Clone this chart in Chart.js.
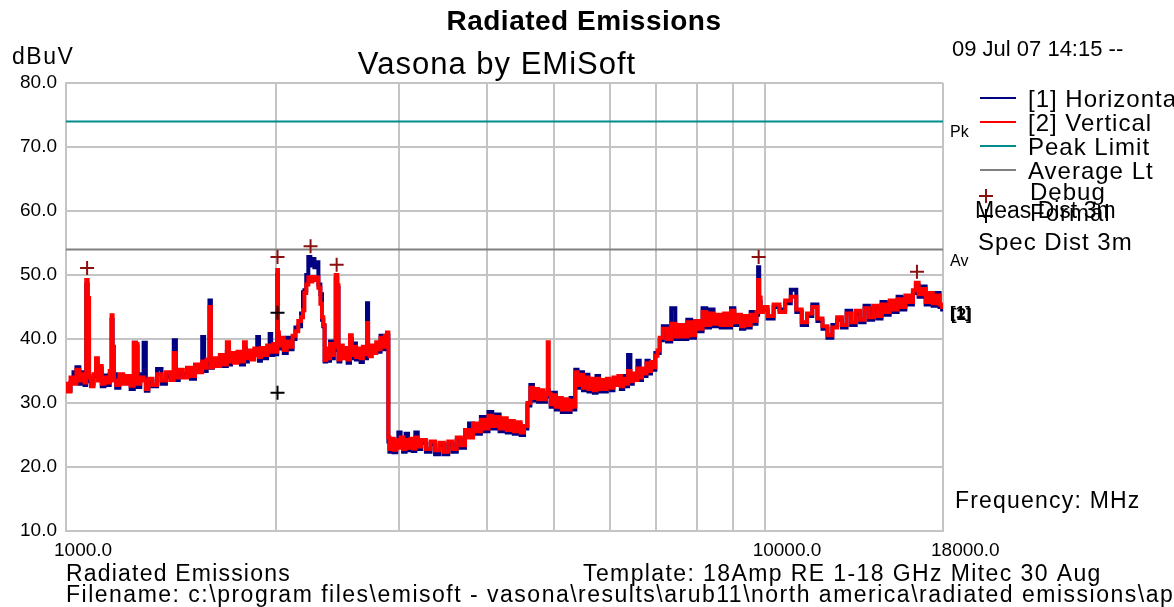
<!DOCTYPE html>
<html>
<head>
<meta charset="utf-8">
<title>Radiated Emissions</title>
<script src="https://cdn.jsdelivr.net/npm/chart.js@4.4.1/dist/chart.umd.min.js"></script>
<style>
  html, body { margin: 0; padding: 0; background: #ffffff; }
  #wrap { width: 1174px; height: 607px; }
</style>
</head>
<body>
<div id="wrap"><canvas id="canvas_0" width="1174" height="607"></canvas></div>
<script>
// sweep points, MHz
var freqMHz = [
    1000, 1010, 1020, 1030, 1040, 1050, 1060, 1066, 1072, 1076,
    1082, 1090, 1100, 1108, 1114, 1120, 1130, 1140, 1150, 1160,
    1164, 1168, 1175, 1185, 1200, 1215, 1230, 1245, 1256, 1262,
    1270, 1285, 1298, 1304, 1320, 1340, 1360, 1380, 1400, 1420,
    1433, 1440, 1460, 1480, 1500, 1520, 1540, 1560, 1573, 1580,
    1600, 1609, 1615, 1630, 1650, 1670, 1690, 1708, 1715, 1730,
    1750, 1770, 1790, 1806, 1812, 1830, 1850, 1870, 1886, 1892,
    1910, 1930, 1950, 1963, 1970, 1990, 2004, 2008, 2014, 2020,
    2040, 2060, 2080, 2100, 2120, 2140, 2160, 2180, 2188, 2200,
    2215, 2230, 2245, 2260, 2275, 2290, 2305, 2320, 2330, 2340,
    2350, 2365, 2380, 2395, 2410, 2425, 2440, 2450, 2460, 2480,
    2500, 2520, 2540, 2560, 2570, 2590, 2610, 2630, 2650, 2670,
    2690, 2703, 2710, 2730, 2750, 2770, 2790, 2810, 2830, 2850,
    2870, 2890, 2897, 2910, 2930, 2960, 2980, 3000, 3025, 3050,
    3075, 3100, 3125, 3150, 3175, 3200, 3250, 3300, 3350, 3400,
    3450, 3500, 3550, 3600, 3650, 3700, 3750, 3800, 3850, 3900,
    3950, 4000, 4050, 4100, 4150, 4200, 4250, 4300, 4350, 4400,
    4450, 4500, 4550, 4600, 4640, 4680, 4720, 4760, 4800, 4840,
    4885, 4899, 4920, 4960, 5000, 5050, 5100, 5150, 5200, 5250,
    5300, 5340, 5375, 5420, 5470, 5520, 5570, 5620, 5670, 5720,
    5770, 5820, 5870, 5920, 5970, 6010, 6050, 6100, 6150, 6200,
    6250, 6300, 6350, 6400, 6450, 6500, 6550, 6600, 6650, 6700,
    6750, 6800, 6850, 6900, 6950, 7000, 7050, 7100, 7200, 7300,
    7400, 7500, 7600, 7700, 7800, 7900, 8000, 8100, 8200, 8300,
    8400, 8500, 8600, 8700, 8800, 8900, 9000, 9100, 9200, 9300,
    9400, 9500, 9600, 9700, 9770, 9804, 9840, 9900, 10000, 10200,
    10400, 10600, 10800, 11000, 11200, 11400, 11600, 11800, 12000, 12200,
    12400, 12600, 12800, 13000, 13200, 13400, 13600, 13800, 14000, 14200,
    14400, 14600, 14800, 15000, 15200, 15400, 15600, 15800, 16000, 16200,
    16400, 16520, 16700, 16900, 17100, 17300, 17500, 17700, 17900, 18000
];

// [2] Vertical, dBuV
var verticalDbuv = [
    33.0, 31.8, 34.0, 33.0, 35.2, 33.5, 34.5, 33.2, 49.2, 46.4,
    34.0, 32.6, 34.5, 37.0, 33.5, 35.8, 33.0, 34.0, 33.2, 35.0,
    43.7, 38.8, 33.5, 32.8, 34.5, 33.0, 34.2, 32.7, 39.4, 39.2,
    33.0, 34.0, 33.5, 32.2, 33.8, 32.8, 34.5, 33.5, 34.8, 33.6,
    37.8, 34.0, 35.2, 34.0, 35.5, 34.2, 36.0, 34.8, 36.5, 35.5,
    36.8, 45.0, 35.6, 37.0, 35.8, 37.5, 36.0, 39.5, 36.5, 37.8,
    36.3, 38.0, 36.5, 39.5, 37.0, 38.2, 36.8, 38.5, 37.5, 37.2,
    38.6, 37.5, 39.0, 38.0, 38.0, 39.2, 38.0, 50.8, 41.0, 39.0,
    40.2, 38.3, 39.6, 38.8, 40.5, 41.2, 42.8, 43.4, 44.5, 47.2,
    48.5, 49.6, 49.0, 49.7, 49.2, 49.6, 48.0, 45.5, 43.4, 42.2,
    36.7, 38.5, 37.0, 39.2, 37.5, 38.8, 50.0, 48.4, 36.8, 39.0,
    37.0, 38.6, 36.8, 40.6, 37.5, 38.8, 37.2, 38.5, 37.0, 38.8,
    37.6, 42.5, 38.5, 37.3, 39.0, 37.8, 39.5, 38.4, 40.2, 38.8,
    40.5, 41.0, 24.6, 22.8, 24.4, 22.7, 24.2, 23.0, 24.6, 22.8,
    24.2, 23.0, 24.4, 22.9, 24.6, 23.2, 24.2, 22.8, 24.0, 22.6,
    23.8, 22.4, 24.0, 22.8, 24.6, 23.4, 25.8, 24.6, 26.8, 25.6,
    27.4, 26.0, 28.0, 26.4, 27.8, 26.0, 27.6, 25.8, 27.2, 25.6,
    27.0, 25.4, 26.4, 30.0, 32.4, 30.8, 32.2, 30.6, 32.0, 30.6,
    31.6, 39.5, 31.4, 29.8, 31.2, 29.4, 30.8, 29.0, 30.6, 29.0,
    30.4, 29.4, 34.8, 32.8, 34.4, 32.4, 34.0, 32.2, 33.8, 32.0,
    33.8, 32.2, 33.6, 32.2, 33.8, 32.6, 32.4, 34.0, 32.8, 34.2,
    32.6, 33.8, 33.0, 35.0, 33.4, 34.6, 33.6, 35.4, 34.0, 35.4,
    34.6, 36.2, 35.0, 36.4, 35.6, 37.4, 38.2, 40.2, 41.6, 40.0,
    42.4, 40.4, 42.2, 40.4, 42.6, 40.6, 42.8, 41.6, 44.2, 42.2,
    44.0, 42.4, 43.8, 42.2, 44.0, 42.2, 44.4, 42.6, 43.8, 42.0,
    43.6, 42.2, 43.8, 42.8, 44.2, 49.2, 46.5, 44.2, 45.0, 43.6,
    45.4, 44.2, 46.0, 46.6, 44.6, 42.6, 44.0, 45.0, 43.2, 42.0,
    40.6, 41.8, 43.4, 42.2, 44.0, 42.6, 44.4, 43.0, 44.8, 43.4,
    45.2, 43.6, 45.4, 44.2, 46.0, 44.6, 46.2, 45.0, 46.8, 45.8,
    47.6, 48.8, 47.0, 47.8, 45.8, 47.2, 45.6, 46.8, 45.4, 45.0
];

// [1] Horizontal, dBuV
var horizontalDbuv = [
    32.5, 32.0, 33.2, 34.8, 35.6, 33.0, 34.8, 32.8, 48.5, 46.0,
    33.4, 33.0, 34.2, 36.0, 33.8, 35.4, 32.6, 34.3, 32.8, 34.5,
    43.0, 38.0, 34.5, 32.4, 34.0, 33.5, 33.8, 32.2, 39.4, 38.8,
    32.5, 34.5, 39.4, 31.9, 33.4, 32.6, 35.3, 33.0, 34.2, 34.0,
    39.8, 33.6, 34.6, 34.5, 35.0, 33.8, 35.5, 35.2, 40.3, 35.0,
    36.2, 46.0, 35.5, 36.5, 36.3, 37.0, 35.8, 38.0, 36.0, 37.2,
    36.8, 37.5, 36.0, 38.5, 36.5, 37.8, 37.3, 38.0, 40.3, 36.6,
    38.0, 37.0, 38.6, 40.8, 37.5, 38.8, 37.6, 50.0, 40.5, 38.5,
    39.8, 37.8, 40.2, 38.4, 40.0, 41.8, 42.0, 44.0, 47.3, 47.6,
    50.0, 52.8, 51.5, 52.5, 51.2, 52.0, 48.5, 47.0, 43.0, 42.0,
    36.5, 38.0, 36.6, 39.6, 37.0, 38.3, 49.5, 48.0, 36.5, 38.5,
    37.5, 38.2, 36.3, 40.0, 37.0, 39.3, 36.8, 38.0, 36.4, 38.4,
    37.0, 45.6, 38.0, 37.8, 38.5, 38.2, 39.0, 38.0, 40.5, 38.4,
    40.0, 40.6, 24.0, 22.4, 23.8, 22.3, 23.8, 25.4, 24.2, 22.4,
    25.2, 22.6, 24.0, 22.5, 25.4, 22.8, 23.8, 22.4, 23.6, 22.0,
    23.4, 22.0, 23.6, 22.4, 24.2, 23.0, 25.4, 26.8, 26.4, 25.2,
    27.8, 25.6, 28.6, 26.0, 28.2, 25.6, 27.2, 25.4, 26.8, 25.2,
    26.6, 25.0, 26.0, 29.6, 32.8, 30.4, 31.8, 30.2, 31.6, 30.2,
    31.2, 32.0, 31.0, 29.4, 31.6, 29.0, 30.4, 28.6, 30.2, 28.6,
    30.8, 29.0, 35.2, 32.4, 34.8, 32.0, 34.4, 31.8, 33.4, 31.6,
    34.2, 31.8, 33.2, 31.8, 33.4, 32.2, 32.0, 33.6, 33.2, 33.8,
    32.2, 34.2, 32.6, 37.5, 33.0, 34.2, 34.0, 36.6, 33.6, 35.0,
    34.2, 36.6, 34.6, 36.0, 35.2, 37.8, 37.8, 39.8, 42.0, 39.6,
    44.8, 40.0, 41.8, 40.0, 43.0, 40.2, 42.4, 41.2, 44.8, 41.8,
    44.6, 42.0, 43.4, 41.8, 43.6, 41.8, 44.8, 42.2, 43.4, 41.6,
    43.2, 41.8, 44.2, 42.4, 43.8, 51.2, 45.8, 44.6, 44.6, 43.2,
    45.0, 44.6, 45.6, 47.7, 44.2, 42.2, 43.6, 45.4, 42.8, 41.6,
    40.2, 42.2, 43.0, 41.8, 44.4, 42.2, 44.0, 42.6, 45.2, 43.0,
    44.8, 43.2, 45.8, 43.8, 45.6, 44.2, 46.6, 44.6, 46.4, 45.4,
    47.2, 48.4, 46.6, 48.2, 45.4, 46.8, 45.2, 47.2, 45.0, 44.6
];

var peakLimit = 74;
var averageLimit = 54;

var debugFreq = [1072, 2008, 2239, 2440, 9804, 16520];
var debugLevel = [51.1, 52.8, 54.5, 51.6, 52.8, 50.5];
var formalFreq = [2008, 2008];
var formalLevel = [44.1, 31.6];

var gridFreqs = [1000, 2000, 3000, 4000, 5000, 6000, 7000, 8000, 9000, 10000, 18000];
var labelledFreqs = [1000, 10000, 18000];

var FONT = "'Liberation Sans', Arial, sans-serif";
var BLUE = '#000080';
var RED = '#ff0000';
var TEAL = '#008c8c';
var GREY = '#808080';
var DEBUG = '#8b1010';
var GRID = '#c4c4c4';

function points(xs, ys) {
    return xs.map(function (x, i) { return {x: x, y: ys[i]}; });
}

function flat(level) {
    return [{x: 1000, y: level}, {x: 18000, y: level}];
}

function text(ctx, str, x, y, size, opts) {
    opts = opts || {};
    ctx.save();
    ctx.font = (opts.bold ? 'bold ' : '') + size + 'px ' + FONT;
    ctx.letterSpacing = (opts.spacing || 0) + 'px';
    ctx.fillStyle = opts.color || '#000';
    ctx.textAlign = opts.align || 'left';
    ctx.textBaseline = 'middle';
    ctx.fillText(str, x, y);
    ctx.restore();
}

function cross(ctx, x, y, r, color) {
    ctx.save();
    ctx.strokeStyle = color;
    ctx.lineWidth = 2;
    ctx.beginPath();
    ctx.moveTo(x - r, y); ctx.lineTo(x + r, y);
    ctx.moveTo(x, y - r); ctx.lineTo(x, y + r);
    ctx.stroke();
    ctx.restore();
}

// header, side legend and footer texts
var annotations = {
    id: 'annotations',
    afterDraw: function (chart) {
        var ctx = chart.ctx;
        text(ctx, 'Radiated Emissions', 584, 22, 28, {bold: true, align: 'center', spacing: 0.5});
        text(ctx, 'Vasona by EMiSoft', 497, 65, 31, {align: 'center', spacing: 1});
        text(ctx, 'dBuV', 12, 58, 23, {spacing: 1.5});
        text(ctx, '09 Jul 07 14:15 --', 952, 50, 22);

        text(ctx, 'Pk', 950, 133, 16);
        text(ctx, 'Av', 950, 262, 16);
        text(ctx, '[1]', 950, 313, 17, {bold: true});
        text(ctx, '[2]', 951, 315, 17, {bold: true});

        var rows = [
            {label: '[1] Horizontal', color: BLUE, y: 98},
            {label: '[2] Vertical', color: RED, y: 122},
            {label: 'Peak Limit', color: TEAL, y: 146},
            {label: 'Average Lt', color: GREY, y: 170}
        ];
        rows.forEach(function (row) {
            ctx.save();
            ctx.strokeStyle = row.color;
            ctx.lineWidth = 2;
            ctx.beginPath();
            ctx.moveTo(980, row.y);
            ctx.lineTo(1016, row.y);
            ctx.stroke();
            ctx.restore();
            text(ctx, row.label, 1028, row.y + 2, 24, {spacing: 1});
        });
        cross(ctx, 986, 196, 7, DEBUG);
        text(ctx, 'Debug', 1030, 193, 24, {spacing: 1});
        cross(ctx, 986, 216, 7, '#000');
        text(ctx, 'Formal', 1030, 214, 24, {spacing: 1});
        text(ctx, 'Meas Dist 3m', 975, 212, 23);
        text(ctx, 'Spec Dist 3m', 978, 243, 24, {spacing: 1});

        text(ctx, 'Frequency: MHz', 955, 502, 23, {spacing: 1.2});
        text(ctx, 'Radiated Emissions', 66, 575, 23, {spacing: 1.2});
        text(ctx, 'Template: 18Amp RE 1-18 GHz Mitec 30 Aug', 583, 575, 23, {spacing: 1.4});
        text(ctx, 'Filename: c:\\program files\\emisoft - vasona\\results\\arub11\\north america\\radiated emissions\\ap', 66, 596, 23, {spacing: 1.5});
    }
};

var ctx = document.getElementById('canvas_0');
var myChart = new Chart(ctx, {
    type: 'line',
    data: {
        datasets: [
            {label: 'Debug', data: points(debugFreq, debugLevel), showLine: false,
                pointStyle: 'cross', pointRadius: 7, borderColor: DEBUG, borderWidth: 2, order: 0},
            {label: 'Formal', data: points(formalFreq, formalLevel), showLine: false,
                pointStyle: 'cross', pointRadius: 7, borderColor: '#000', borderWidth: 2, order: 0},
            {label: '[2] Vertical', data: points(freqMHz, verticalDbuv), borderColor: RED,
                borderWidth: 4, pointRadius: 0, stepped: 'middle', order: 2},
            {label: '[1] Horizontal', data: points(freqMHz, horizontalDbuv), borderColor: BLUE,
                borderWidth: 4, pointRadius: 0, stepped: 'middle', order: 3},
            {label: 'Peak Limit', data: flat(peakLimit), borderColor: TEAL,
                borderWidth: 2, pointRadius: 0, order: 4},
            {label: 'Average Lt', data: flat(averageLimit), borderColor: GREY,
                borderWidth: 2, pointRadius: 0, order: 4}
        ]
    },
    options: {
        responsive: false,
        animation: false,
        devicePixelRatio: 1,
        layout: {padding: {left: 0, right: 231, top: 83, bottom: 46}},
        plugins: {
            legend: {display: false},
            title: {display: false},
            tooltip: {enabled: false}
        },
        scales: {
            x: {
                type: 'logarithmic',
                min: 1000,
                max: 18000,
                afterBuildTicks: function (scale) {
                    scale.ticks = gridFreqs.map(function (v) { return {value: v}; });
                },
                afterFit: function (scale) { scale.height = 30; },
                grid: {color: GRID, lineWidth: 2, drawTicks: false},
                border: {color: GRID, width: 2},
                ticks: {
                    autoSkip: false,
                    maxRotation: 0,
                    align: 'start',
                    labelOffset: -12,
                    padding: 8,
                    color: '#000',
                    font: {family: FONT, size: 19},
                    callback: function (value) {
                        return labelledFreqs.indexOf(value) >= 0 ? value.toFixed(1) : '';
                    }
                }
            },
            y: {
                min: 10,
                max: 80,
                afterFit: function (scale) { scale.width = 66; },
                grid: {color: GRID, lineWidth: 2, drawTicks: false},
                border: {color: GRID, width: 2},
                ticks: {
                    stepSize: 10,
                    padding: 9,
                    color: '#000',
                    font: {family: FONT, size: 19},
                    callback: function (value) { return value.toFixed(1); }
                }
            }
        }
    },
    plugins: [annotations]
});
</script>
</body>
</html>
